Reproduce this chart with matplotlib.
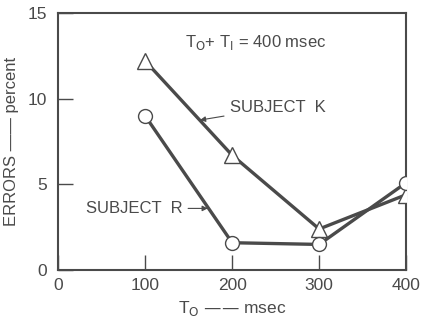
import matplotlib
matplotlib.use("Agg")
import matplotlib.pyplot as plt

plt.rcParams['font.family'] = ['Liberation Sans', 'DejaVu Sans']

t0 = [100, 200, 300, 400]
subject_k = [12.2, 6.7, 2.4, 4.4]
subject_r = [9.0, 1.6, 1.5, 5.1]
xticks = [0, 100, 200, 300, 400]
yticks = [0, 5, 10, 15]

c = '#4a4a4a'
fig = plt.figure(figsize=(4.24, 3.22), dpi=100)
ax = fig.add_axes([0.137, 0.161, 0.821, 0.799])

ax.plot(t0, subject_k, color=c, lw=2.4, marker='^', ms=11, mfc='white', mec=c, mew=1.0, zorder=3)
ax.plot(t0, subject_r, color=c, lw=2.4, marker='o', ms=10, mfc='white', mec=c, mew=1.0, zorder=3)

ax.set_xlim(0, 400)
ax.set_ylim(0, 15)
ax.set_xticks(xticks)
ax.set_yticks(yticks)
ax.tick_params(direction='in', length=11, color=c, labelcolor=c, labelsize=12.5, width=1)
ax.tick_params(axis='x', pad=6)
ax.tick_params(axis='y', pad=8)
for s in ax.spines.values():
    s.set_color(c)
    s.set_linewidth(1.5)

ax.set_xlabel(r'T$_{\mathrm{O}}$ —— msec', color=c, fontsize=12.5, labelpad=4)
ax.set_ylabel('ERRORS —— percent', color=c, fontsize=12, labelpad=6)

ax.text(146, 13.3, r'T$_{\mathrm{O}}$+ T$_{\mathrm{I}}$ = 400 msec', color=c, fontsize=12, ha='left', va='center')
ax.annotate('SUBJECT  K', xy=(163, 8.75), xytext=(197, 9.5), color=c, fontsize=12,
            va='center', ha='left',
            arrowprops=dict(arrowstyle='-|>', color=c, lw=0.8, mutation_scale=8, shrinkA=2, shrinkB=0))
ax.annotate('SUBJECT  R', xy=(172, 3.6), xytext=(32, 3.6), color=c, fontsize=12,
            va='center', ha='left',
            arrowprops=dict(arrowstyle='-|>', color=c, lw=0.8, mutation_scale=8, shrinkA=2, shrinkB=0))

fig.savefig('out.png', dpi=100, facecolor='white')
